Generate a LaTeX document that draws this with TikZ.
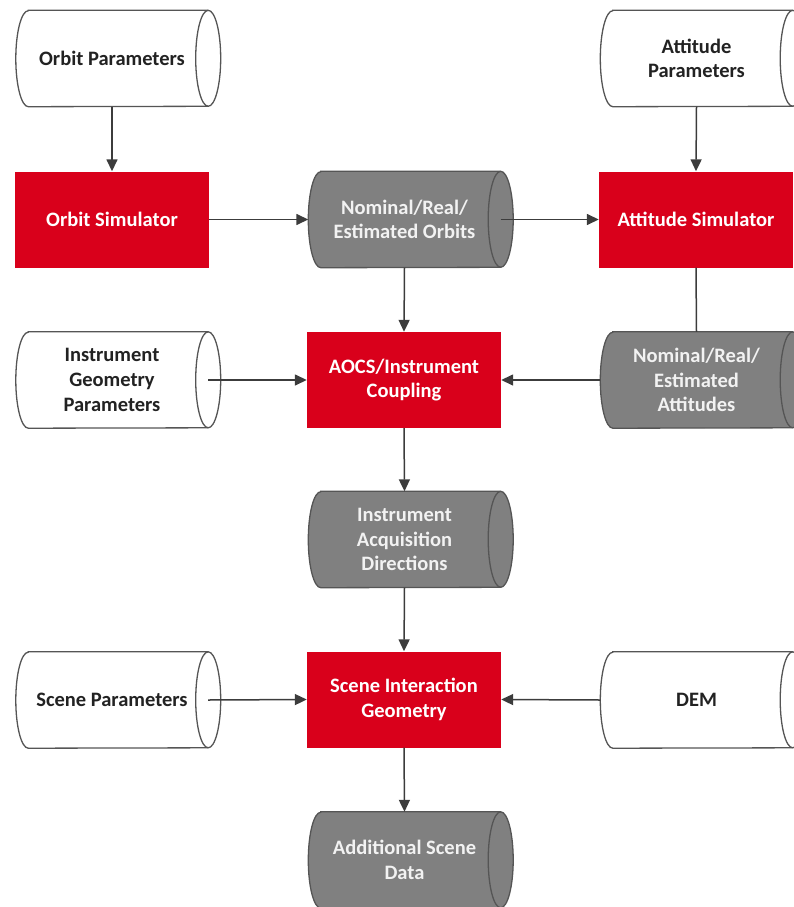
\documentclass[tikz,border=0pt]{standalone}
\usepackage{fontspec}
\setmainfont{Carlito}
\usetikzlibrary{arrows.meta,backgrounds}

\definecolor{boxred}{HTML}{D9001B}
\definecolor{drumgray}{HTML}{808080}
\definecolor{edgegray}{HTML}{555555}
\definecolor{linegray}{HTML}{3C3C3C}
\definecolor{inktext}{HTML}{222222}
\definecolor{palegray}{HTML}{F2F2F2}

\tikzset{
  every node/.style={font=\fontsize{20.5}{24.6}\selectfont\bfseries, align=center, inner sep=0pt},
  procbox/.style={rectangle, fill=boxred, minimum width=194pt, minimum height=96pt, text=white},
  drumbody/.style={rectangle, minimum width=192pt, minimum height=96pt},
  paramdrum/.style={drumbody, text=inktext},
  datadrum/.style={drumbody, text=palegray},
  flow/.style={draw=linegray, line width=1.5pt, -{Triangle[length=12pt,width=11pt]}},
  link/.style={draw=linegray, line width=1.5pt},
  drumwhite/.style={draw=edgegray, line width=1.3pt, fill=white},
  drumdark/.style={draw=edgegray, line width=1.3pt, fill=drumgray},
}

% horizontal storage drum around a node: the node covers the body,
% the end cap of radius 12.5pt sits on its east side
\newcommand\drumoutline[2]{%
  \path[#2] ([xshift=12.5pt]#1.north west) -- (#1.north east)
    arc[start angle=90, end angle=-90, x radius=12.5pt, y radius=48pt]
    -- ([xshift=12.5pt]#1.south west)
    arc[start angle=270, end angle=90, x radius=12.5pt, y radius=48pt] -- cycle;
  \draw[#2, fill=none] (#1.north east)
    arc[start angle=90, end angle=270, x radius=12.5pt, y radius=48pt];
}

\begin{document}
\begin{tikzpicture}[x=1pt, y=1pt]
  \clip (0,0) rectangle (794,-907);

  % inputs and data stores
  \node[paramdrum] (op)  at (112,-58.5)   {Orbit Parameters};
  \node[paramdrum] (ap)  at (696.5,-58.5) {Attitude\\Parameters};
  \node[datadrum]  (orb) at (404.5,-219.5) {Nominal/Real/\\Estimated Orbits};
  \node[paramdrum] (ig)  at (112,-380)    {Instrument\\Geometry\\Parameters};
  \node[datadrum]  (att) at (696.5,-380)  {Nominal/Real/\\Estimated\\Attitudes};
  \node[datadrum]  (acq) at (404.5,-539.5) {Instrument\\Acquisition\\Directions};
  \node[paramdrum] (sp)  at (112,-700)    {Scene Parameters};
  \node[paramdrum] (dem) at (696.5,-700)  {DEM};
  \node[datadrum]  (add) at (404.5,-860)  {Additional Scene\\Data};

  % processing steps
  \node[procbox] (os)   at (112,-219.5)   {Orbit Simulator};
  \node[procbox] (as)   at (696,-219.5)   {Attitude Simulator};
  \node[procbox] (aocs) at (404,-380)     {AOCS/Instrument\\Coupling};
  \node[procbox] (sig)  at (404,-699.5)   {Scene Interaction\\Geometry};

  \begin{scope}[on background layer]
    \clip (0,0) rectangle (794,-907);
    \foreach \d in {op,ap,ig,sp,dem} {\drumoutline{\d}{drumwhite}}
    \foreach \d in {orb,att,acq,add} {\drumoutline{\d}{drumdark}}
  \end{scope}

  % data flow
  \draw[flow] (op) -- (os);
  \draw[flow] (ap.south) -- (as.north);
  \draw[flow] (os) -- (orb);
  \draw[flow] (orb.east) -- (as.west);
  \draw[flow] (orb.south) -- (aocs.north);
  \draw[link] (as.south) -- (att.north);
  \draw[flow] (ig.east) -- (aocs.west);
  \draw[flow] (att.west) -- (aocs.east);
  \draw[flow] (aocs.south) -- (acq.north);
  \draw[flow] (acq.south) -- (sig.north);
  \draw[flow] (sp.east) -- (sig.west);
  \draw[flow] (dem.west) -- (sig.east);
  \draw[flow] (sig.south) -- (add.north);
\end{tikzpicture}
\end{document}
